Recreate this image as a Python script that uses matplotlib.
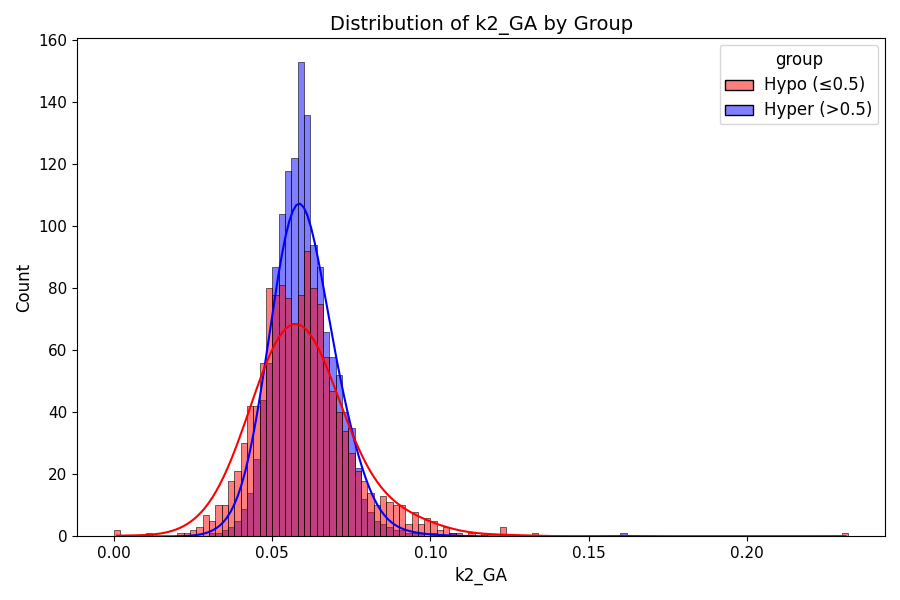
import numpy as np
import pandas as pd
import seaborn as sns
import matplotlib
matplotlib.use("Agg")
import matplotlib.pyplot as plt

# bin starts (width 0.002) and counts
hypo_bins = [0.000, 0.010, 0.020, 0.022, 0.024, 0.026, 0.028, 0.030, 0.032, 0.034,
             0.036, 0.038, 0.040, 0.042, 0.044, 0.046, 0.048, 0.050, 0.052, 0.054,
             0.056, 0.058, 0.060, 0.062, 0.064, 0.066, 0.068, 0.070, 0.072, 0.074,
             0.076, 0.078, 0.080, 0.082, 0.084, 0.086, 0.088, 0.090, 0.092, 0.094,
             0.096, 0.098, 0.100, 0.102, 0.104, 0.106, 0.108, 0.112, 0.116, 0.122,
             0.132, 0.230]
hypo_counts = [2, 1, 1, 1, 2, 3, 7, 5, 10, 10,
               18, 21, 30, 42, 42, 56, 80, 78, 81, 77,
               69, 78, 92, 80, 75, 58, 47, 40, 34, 27,
               21, 18, 14, 10, 13, 11, 10, 10, 4, 8,
               4, 6, 5, 2, 3, 1, 1, 1, 1, 3,
               1, 1]

hyper_bins = [0.030, 0.032, 0.034, 0.036, 0.038, 0.040, 0.042, 0.044, 0.046, 0.048,
              0.050, 0.052, 0.054, 0.056, 0.058, 0.060, 0.062, 0.064, 0.066, 0.068,
              0.070, 0.072, 0.074, 0.076, 0.078, 0.080, 0.082, 0.084, 0.086, 0.088,
              0.090, 0.092, 0.094, 0.096, 0.100, 0.106, 0.160]
hyper_counts = [1, 1, 2, 3, 5, 9, 14, 25, 44, 56,
                87, 104, 118, 122, 153, 136, 94, 87, 66, 58,
                52, 40, 35, 22, 12, 8, 5, 4, 3, 2,
                2, 1, 1, 1, 1, 1, 1]

width = 0.002
df = pd.DataFrame({
    "k2_GA": np.concatenate([np.array(hypo_bins) + width / 2, np.array(hyper_bins) + width / 2]),
    "w": hypo_counts + hyper_counts,
    "group": ["Hypo (≤0.5)"] * len(hypo_bins) + ["Hyper (>0.5)"] * len(hyper_bins),
})

fig, ax = plt.subplots(figsize=(9, 6), dpi=100)
sns.histplot(data=df, x="k2_GA", weights="w", hue="group",
             binwidth=width, binrange=(0, 0.232), kde=True,
             hue_order=["Hypo (≤0.5)", "Hyper (>0.5)"],
             palette={"Hypo (≤0.5)": "red", "Hyper (>0.5)": "blue"}, ax=ax)
ax.set_title("Distribution of k2_GA by Group", fontsize=14)
ax.set_xlabel("k2_GA", fontsize=12)
ax.set_ylabel("Count", fontsize=12)
ax.tick_params(labelsize=11)
leg = ax.get_legend()
leg.get_title().set_fontsize(12)
for t in leg.get_texts():
    t.set_fontsize(12)
fig.tight_layout()
fig.savefig("out.png")
